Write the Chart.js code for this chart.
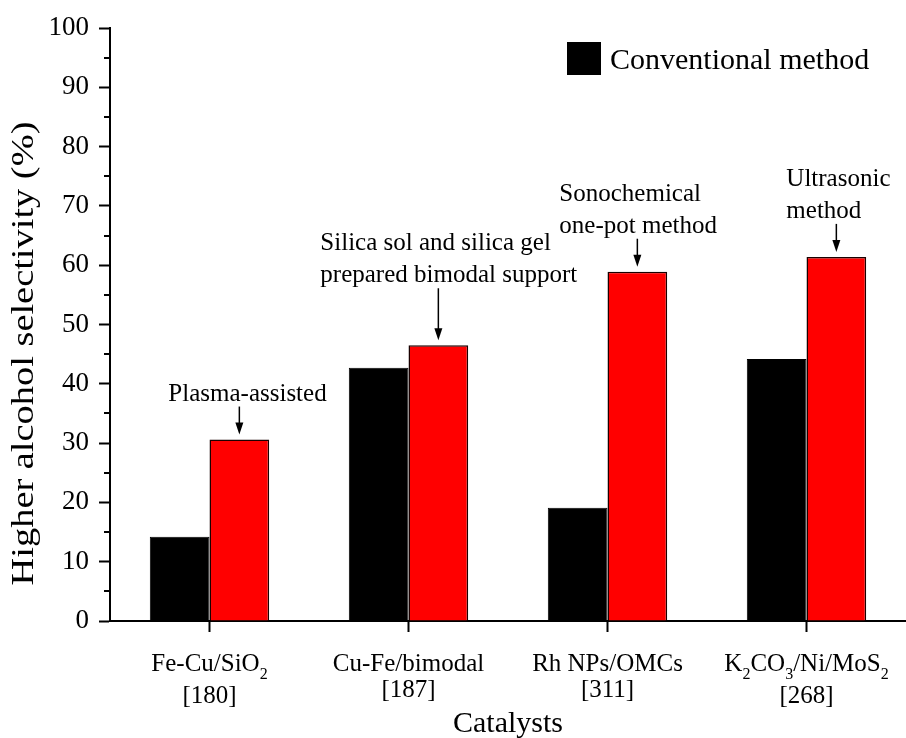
<!DOCTYPE html>
<html>
<head>
<meta charset="utf-8">
<title>Higher alcohol selectivity by catalyst</title>
<script src="https://cdn.jsdelivr.net/npm/chart.js@4.4.1/dist/chart.umd.min.js"></script>
<style>
  html, body { margin: 0; padding: 0; background: #fff; }
  #wrap { width: 906px; height: 738px; }
</style>
</head>
<body>
<div id="wrap"><canvas id="chart" width="906" height="738"></canvas></div>
<script>
// Catalysts (underscore + digit marks a subscript) and their reference numbers
const catalysts = ['Fe-Cu/SiO_2', 'Cu-Fe/bimodal', 'Rh NPs/OMCs', 'K_2CO_3/Ni/MoS_2'];
const references = ['[180]', '[187]', '[311]', '[268]'];

// Higher alcohol selectivity (%)
const conventional = [14.2, 42.7, 19.1, 44.2];
const improved = [30.6, 46.5, 58.9, 61.4];

// Preparation route noted above each improved bar
const methodNotes = [
  ['Plasma-assisted'],
  ['Silica sol and silica gel', 'prepared bimodal support'],
  ['Sonochemical', 'one-pot method'],
  ['Ultrasonic', 'method']
];

// Y axis range and tick spacing
const yMin = 0, yMax = 100, yStep = 10, yMinorStep = 5;

const FONT = '"Liberation Serif", "Times New Roman", serif';

// Placement of each note relative to its bar: left offset of the text, arrow length
const notePlacement = [
  { dx: -71, arrow: 28 },
  { dx: -118, arrow: 52 },
  { dx: -78, arrow: 28 },
  { dx: -50, arrow: 28 }
];

// Split "SiO_2" style strings into normal / subscript runs
function parseRich(str) {
  const runs = [];
  let buf = '';
  for (let i = 0; i < str.length; i++) {
    if (str[i] === '_' && i + 1 < str.length) {
      if (buf) { runs.push({ t: buf, sub: false }); buf = ''; }
      runs.push({ t: str[i + 1], sub: true });
      i++;
    } else {
      buf += str[i];
    }
  }
  if (buf) runs.push({ t: buf, sub: false });
  return runs;
}

function drawRich(ctx, str, cx, baseline, size, subSize, subDrop) {
  const runs = parseRich(str);
  let total = 0;
  runs.forEach(r => {
    ctx.font = (r.sub ? subSize : size) + 'px ' + FONT;
    r.w = ctx.measureText(r.t).width;
    total += r.w;
  });
  let x = cx - total / 2;
  ctx.textAlign = 'left';
  ctx.textBaseline = 'alphabetic';
  runs.forEach(r => {
    ctx.font = (r.sub ? subSize : size) + 'px ' + FONT;
    ctx.fillText(r.t, x, baseline + (r.sub ? subDrop : 0));
    x += r.w;
  });
  return runs.some(r => r.sub);
}

const decorations = {
  id: 'decorations',
  afterDraw(chart) {
    const ctx = chart.ctx;
    const area = chart.chartArea;
    const xs = chart.scales.x;
    const ys = chart.scales.y;
    ctx.save();
    ctx.fillStyle = '#000';
    ctx.strokeStyle = '#000';

    // minor ticks on the y axis
    ctx.lineWidth = 2;
    for (let v = yMin + yMinorStep; v < yMax; v += yStep) {
      const y = Math.round(ys.getPixelForValue(v));
      ctx.beginPath();
      ctx.moveTo(area.left, y);
      ctx.lineTo(area.left - 6, y);
      ctx.stroke();
    }

    // category labels with subscripts, reference numbers beneath
    catalysts.forEach((name, i) => {
      const cx = xs.getPixelForTick(i);
      const hasSub = drawRich(ctx, name, cx, area.bottom + 50, 25, 16, 8);
      ctx.font = '25px ' + FONT;
      ctx.textAlign = 'center';
      ctx.textBaseline = 'alphabetic';
      ctx.fillText(references[i], cx, area.bottom + (hasSub ? 82 : 76));
    });

    // axis titles
    ctx.font = '30px ' + FONT;
    ctx.textAlign = 'center';
    ctx.textBaseline = 'alphabetic';
    ctx.fillText('Catalysts', (area.left + area.right) / 2, 732);
    ctx.save();
    ctx.font = '32px ' + FONT;
    ctx.translate(33, (area.top + area.bottom) / 2 + 29);
    ctx.rotate(-Math.PI / 2);
    ctx.scale(1.2, 1);
    ctx.fillText('Higher alcohol selectivity (%)', 0, 0);
    ctx.restore();

    // method notes with arrows pointing at the improved bars
    const meta = chart.getDatasetMeta(1);
    meta.data.forEach((bar, i) => {
      const p = notePlacement[i];
      const lines = methodNotes[i];
      const tip = bar.y - 5;
      const top = tip - p.arrow;
      ctx.lineWidth = 1.5;
      ctx.beginPath();
      ctx.moveTo(bar.x, top);
      ctx.lineTo(bar.x, tip - 10);
      ctx.stroke();
      ctx.beginPath();
      ctx.moveTo(bar.x - 4, tip - 12);
      ctx.lineTo(bar.x + 4, tip - 12);
      ctx.lineTo(bar.x, tip);
      ctx.closePath();
      ctx.fill();

      ctx.font = '25px ' + FONT;
      ctx.textBaseline = 'alphabetic';
      ctx.textAlign = 'left';
      const lastBase = top - 6;
      lines.forEach((ln, k) => {
        const base = lastBase - (lines.length - 1 - k) * 32;
        ctx.fillText(ln, bar.x + p.dx, base);
      });
    });

    // legend (conventional series only)
    const ds = chart.data.datasets[0];
    ctx.fillStyle = ds.backgroundColor;
    ctx.fillRect(567, 42, 34, 33);
    ctx.fillStyle = '#000';
    ctx.font = '30px ' + FONT;
    ctx.textAlign = 'left';
    ctx.textBaseline = 'alphabetic';
    ctx.fillText(ds.label, 610, 69);

    ctx.restore();
  }
};

new Chart(document.getElementById('chart'), {
  type: 'bar',
  data: {
    labels: catalysts.map(c => c.replace(/_/g, '')),
    datasets: [
      {
        label: 'Conventional method',
        data: conventional,
        backgroundColor: '#000000',
        borderColor: '#000000',
        borderWidth: 1,
        categoryPercentage: 0.6,
        barPercentage: 1.0
      },
      {
        label: 'Improved method',
        data: improved,
        backgroundColor: '#ff0000',
        borderColor: '#1a0000',
        borderWidth: 1.5,
        categoryPercentage: 0.6,
        barPercentage: 1.0
      }
    ]
  },
  options: {
    responsive: false,
    devicePixelRatio: 1,
    animation: false,
    layout: { padding: { top: 28, right: 0, left: 0, bottom: 0 } },
    plugins: {
      legend: { display: false },
      tooltip: { enabled: false }
    },
    scales: {
      x: {
        offset: true,
        grid: {
          display: true,
          drawOnChartArea: false,
          offset: false,
          drawTicks: true,
          tickLength: 11,
          tickWidth: 2,
          tickColor: '#000',
          color: '#000'
        },
        border: { display: true, color: '#000', width: 2 },
        ticks: { display: false },
        afterFit(scale) { scale.height = 117; }
      },
      y: {
        min: yMin,
        max: yMax,
        grid: {
          drawOnChartArea: false,
          drawTicks: true,
          tickLength: 11,
          tickWidth: 2,
          tickColor: '#000',
          color: '#000'
        },
        border: { display: true, color: '#000', width: 2 },
        ticks: {
          stepSize: yStep,
          color: '#000',
          padding: 10,
          font: { family: FONT, size: 27 }
        },
        afterFit(scale) { scale.width = 110; }
      }
    }
  },
  plugins: [decorations]
});
</script>
</body>
</html>
